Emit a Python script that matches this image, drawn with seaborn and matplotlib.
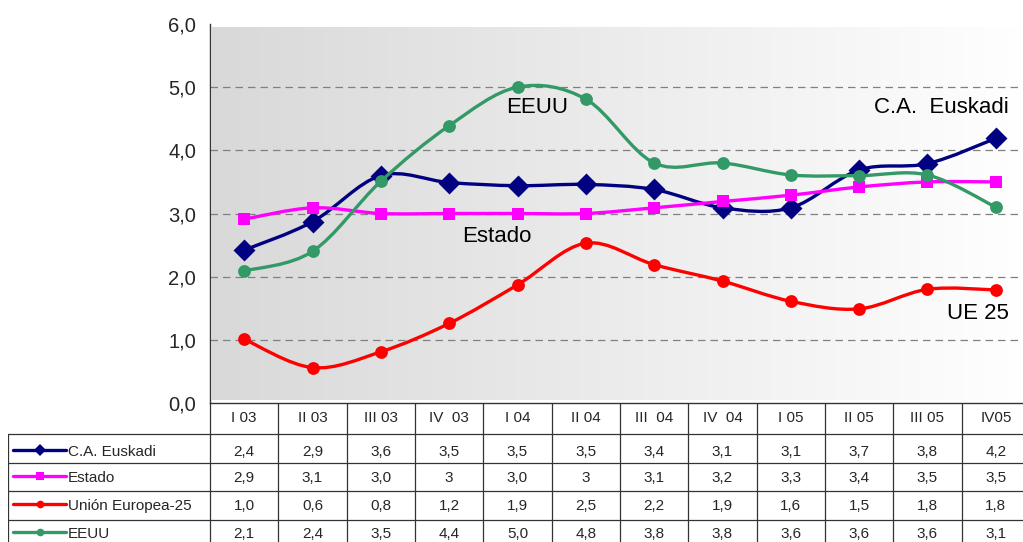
import numpy as np
import matplotlib
matplotlib.use("Agg")
import matplotlib.pyplot as plt
import seaborn as sns
from matplotlib.path import Path
from matplotlib.patches import PathPatch
from matplotlib.colors import LinearSegmentedColormap
from matplotlib.lines import Line2D

# data (plotted values, table texts as printed)
quarters = ["I 03", "II 03", "III 03", "IV  03", "I 04", "II 04",
            "III  04", "IV  04", "I 05", "II 05", "III 05", "IV05"]
euskadi = [2.42, 2.87, 3.60, 3.49, 3.44, 3.46, 3.38, 3.09, 3.09, 3.69, 3.79, 4.19]
estado = [2.91, 3.09, 3.00, 3.00, 3.00, 3.00, 3.09, 3.19, 3.29, 3.42, 3.50, 3.50]
ue25 = [1.01, 0.56, 0.81, 1.26, 1.87, 2.53, 2.19, 1.93, 1.61, 1.49, 1.80, 1.79]
eeuu = [2.09, 2.40, 3.51, 4.39, 5.00, 4.81, 3.80, 3.80, 3.61, 3.60, 3.61, 3.10]

euskadi_txt = ["2,4", "2,9", "3,6", "3,5", "3,5", "3,5", "3,4", "3,1", "3,1", "3,7", "3,8", "4,2"]
estado_txt = ["2,9", "3,1", "3,0", "3", "3,0", "3", "3,1", "3,2", "3,3", "3,4", "3,5", "3,5"]
ue25_txt = ["1,0", "0,6", "0,8", "1,2", "1,9", "2,5", "2,2", "1,9", "1,6", "1,5", "1,8", "1,8"]
eeuu_txt = ["2,1", "2,4", "3,5", "4,4", "5,0", "4,8", "3,8", "3,8", "3,6", "3,6", "3,6", "3,1"]

series = [
    ("C.A. Euskadi", euskadi, euskadi_txt, "#000080", "D", 125),
    ("Estado", estado, estado_txt, "#FF00FF", "s", 85),
    ("Unión Europea-25", ue25, ue25_txt, "#FF0000", "o", 85),
    ("EEUU", eeuu, eeuu_txt, "#339966", "o", 85),
]

sns.set_style("white")
plt.rcParams["font.family"] = ["Liberation Sans", "DejaVu Sans"]

W, H = 1023, 542
fig = plt.figure(figsize=(W / 100, H / 100), dpi=100)

# main plot area in pixel layout
x0, x1 = 210, 1030
y_top, y_bot = 24, 403
ax = fig.add_axes([x0 / W, 1 - y_bot / H, (x1 - x0) / W, (y_bot - y_top) / H])
n = len(quarters)
xs = np.arange(n)
ax.set_xlim(-0.5, n - 0.5)
ax.set_ylim(0, 6)

# gradient background
cmap = LinearSegmentedColormap.from_list("bg", [(0.85, 0.85, 0.85), (1, 1, 1)])
grad = np.linspace(0, 1, 256).reshape(1, -1)
ax.imshow(grad, cmap=cmap, aspect="auto", extent=(0.003, 1, 0.008, 0.992),
          transform=ax.transAxes, zorder=0)

for yv in range(1, 6):
    ax.axhline(yv, color="#808080", lw=0.9, ls=(0, (6, 4)), zorder=1)


def smooth_path(x, y):
    p = np.column_stack([x, y]).astype(float)
    ext = np.vstack([p[0], p, p[-1]])
    verts = [p[0]]
    codes = [Path.MOVETO]
    for i in range(len(p) - 1):
        a, b, c, d = ext[i], ext[i + 1], ext[i + 2], ext[i + 3]
        verts += [b + (c - a) / 6, c - (d - b) / 6, c]
        codes += [Path.CURVE4] * 3
    return Path(verts, codes)


for k, (name, vals, _, col, mk, sz) in enumerate(series):
    ax.add_patch(PathPatch(smooth_path(xs, vals), fill=False, edgecolor=col,
                           lw=2.4, zorder=2 + k * 2, capstyle="round"))
    sns.scatterplot(x=xs, y=vals, marker=mk, s=sz, color=col, edgecolor=col,
                    linewidth=0, ax=ax, zorder=3 + k * 2, legend=False)

ax.set_yticks(range(0, 7))
ax.set_yticklabels([f"{v},0" for v in range(0, 7)], fontsize=14.5)
ax.set_xticks([])
ax.tick_params(axis="y", direction="out", length=6, width=1, color="black", pad=4)
for s in ["top", "right"]:
    ax.spines[s].set_visible(False)
for s in ["left", "bottom"]:
    ax.spines[s].set_color("#333333")
    ax.spines[s].set_linewidth(1)
ax.set_xlabel("")
ax.set_ylabel("")

# annotations
lab_kw = dict(fontsize=16, color="black", ha="center", va="center", zorder=20)
ax.text(4.29, 4.68, "EEUU", **lab_kw)
ax.text(10.2, 4.68, "C.A.  Euskadi", **lab_kw)
ax.text(3.7, 2.63, "Estado", **lab_kw)
ax.text(10.74, 1.42, "UE 25", **lab_kw)

# data table below
cw = (x1 - x0) / n
tl = 8
tax = fig.add_axes([tl / W, 0, (x1 - tl) / W, (H - y_bot) / H])
left_cat = -0.5 - (x0 - tl) / cw
tax.set_xlim(left_cat, n - 0.5)
tax.set_ylim(H - y_bot, 0)
tax.axis("off")

row_edges = [0, 31, 59.5, 88, 117]
row_text_y = [49, 75, 103, 131]
lc = "#333333"
for i in range(n + 1):
    tax.plot([i - 0.5, i - 0.5], [0, H - y_bot], color=lc, lw=0.9)
tax.plot([left_cat + 0.005, left_cat + 0.005], [row_edges[1], H - y_bot], color=lc, lw=0.9)
for e in row_edges[1:]:
    tax.plot([left_cat, n - 0.5], [e, e], color=lc, lw=0.9)

for i, q in enumerate(quarters):
    tax.text(i, 15, q, ha="center", va="center", fontsize=11)

for r, (name, vals, txt, col, mk, sz) in enumerate(series):
    yc = row_text_y[r]
    for i, t in enumerate(txt):
        tax.text(i, yc, t, ha="center", va="center", fontsize=11)
    ly = yc - 2
    lx0 = left_cat + 5 / cw
    lx1 = left_cat + 58 / cw
    tax.add_line(Line2D([lx0, lx1], [ly, ly], color=col, lw=2.4))
    tax.add_line(Line2D([(lx0 + lx1) / 2], [ly], color=col, marker=mk,
                        ms=5.5 if mk != "D" else 6.5, markeredgewidth=0, lw=0))
    tax.text(left_cat + 60 / cw, yc, name, ha="left", va="center", fontsize=11)

fig.savefig("out.png", dpi=100)
